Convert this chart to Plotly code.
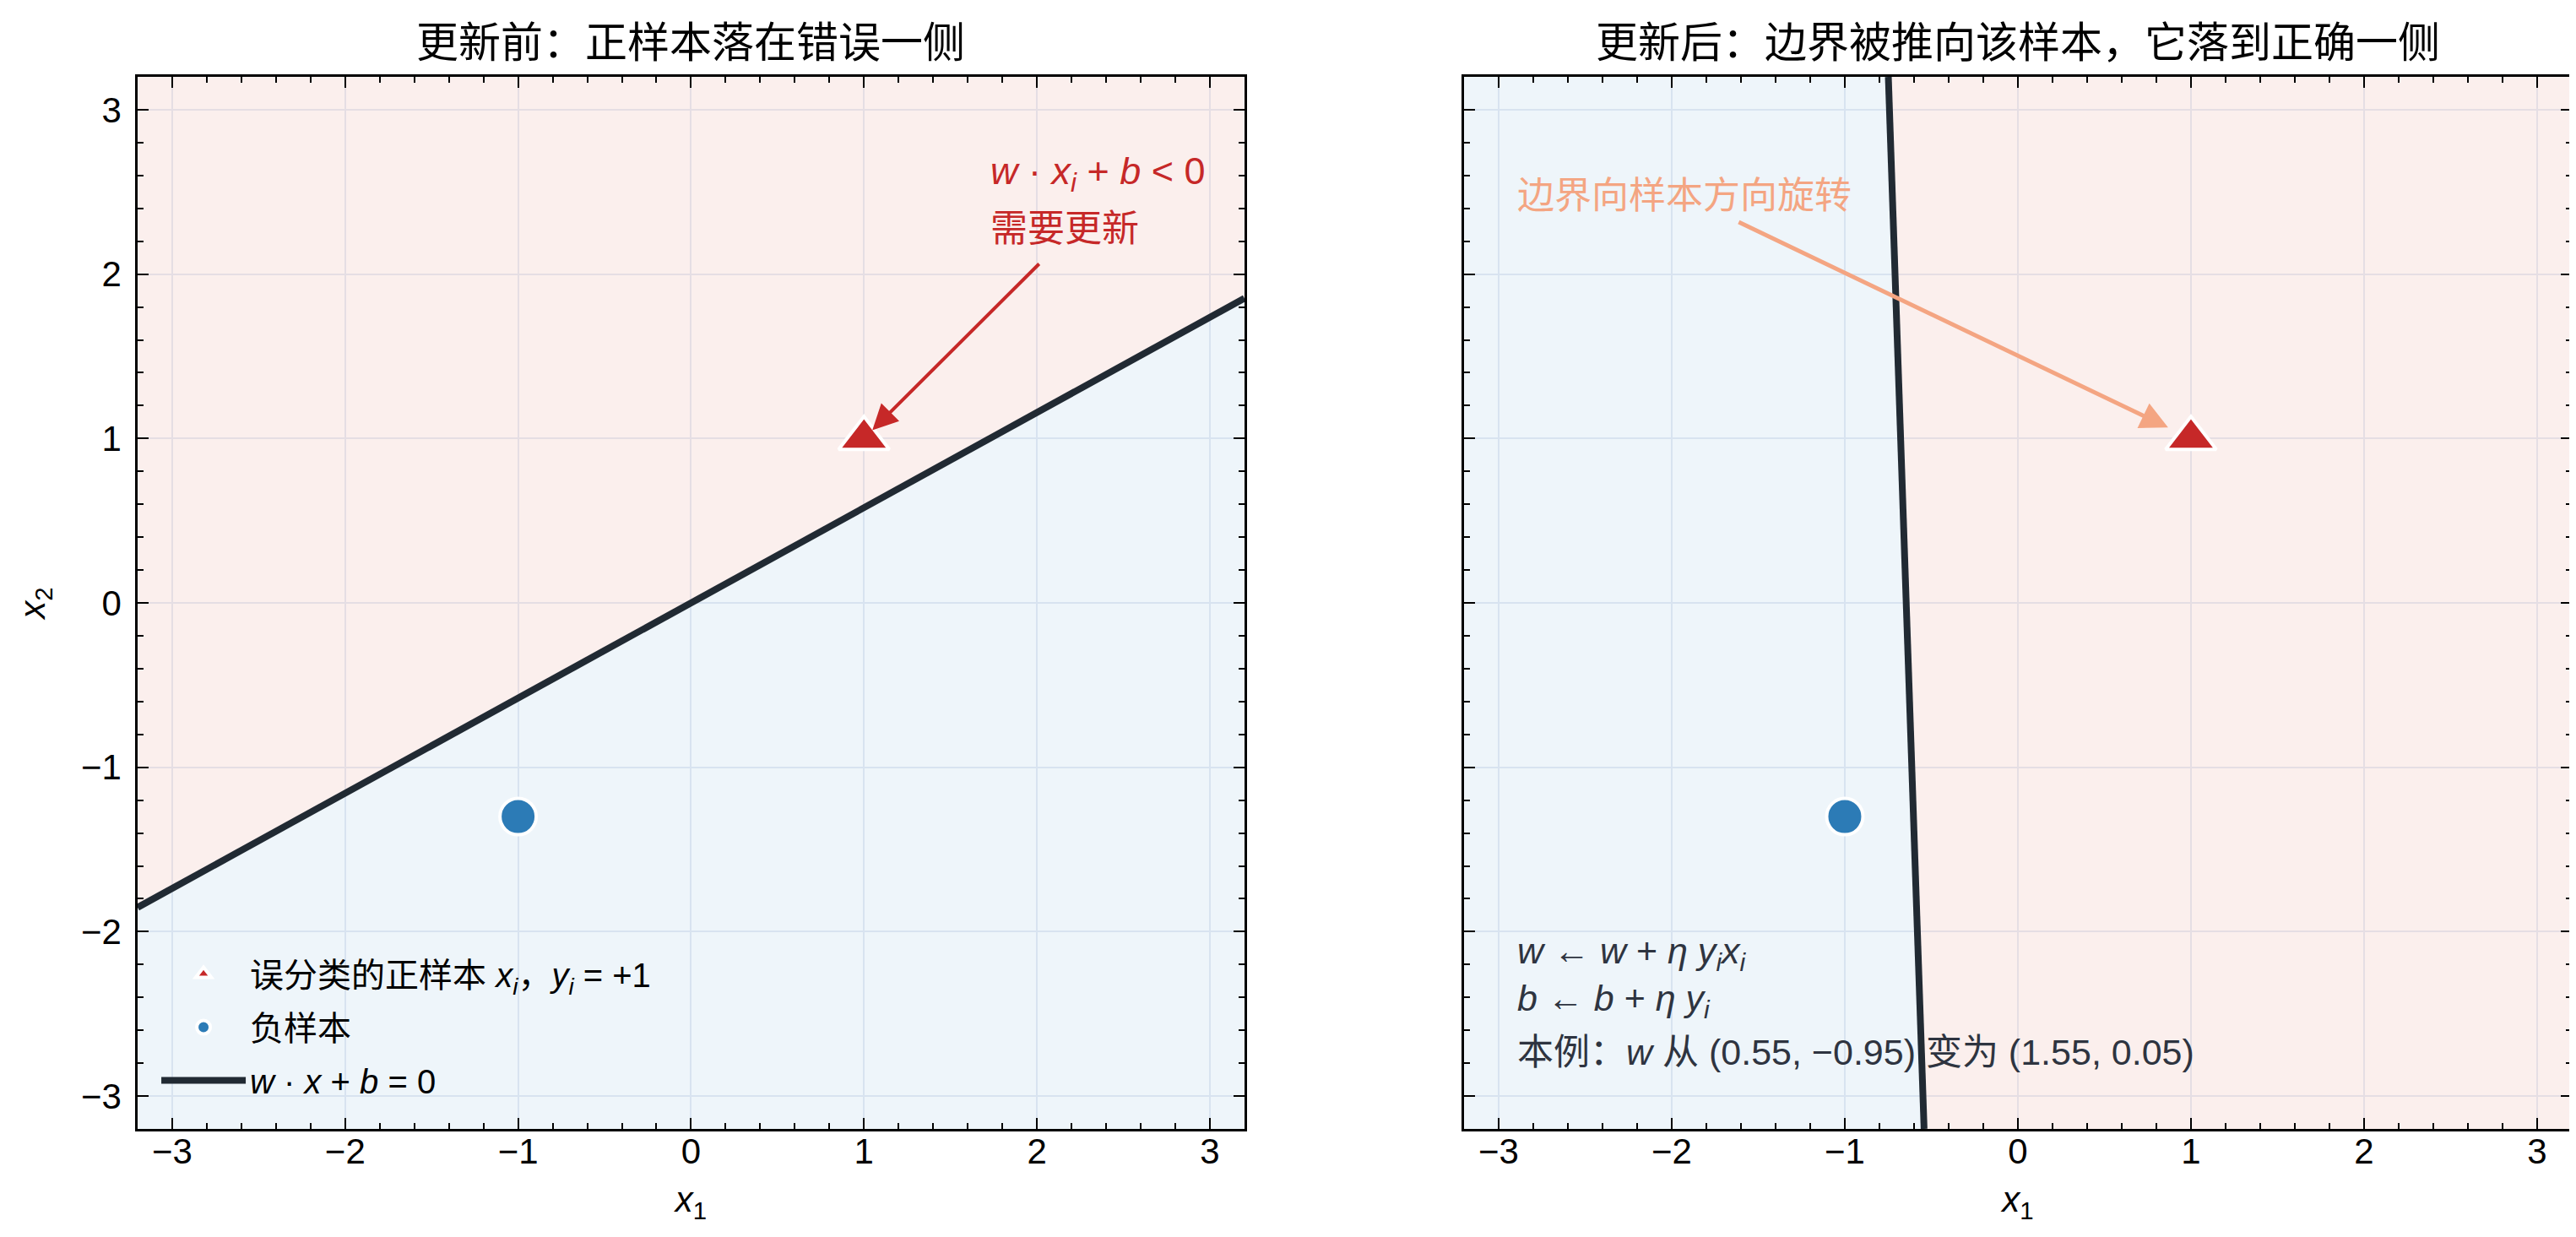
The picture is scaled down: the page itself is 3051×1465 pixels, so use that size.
import plotly.graph_objects as go
from plotly.subplots import make_subplots

# perceptron weights before / after one update (eta = 1, y_i = +1)
w_before = [0.55, -0.95]
b_before = 0.0
w_after = [1.55, 0.05]
b_after = 1.0

# samples
pos_x = [1.0]
pos_y = [1.0]
neg_x = [-1.0]
neg_y = [-1.3]

lim = 3.2
tick_vals = [-3, -2, -1, 0, 1, 2, 3]

titles = ['更新前：正样本落在错误一侧', '更新后：边界被推向该样本，它落到正确一侧']

FONT = 'Liberation Sans, Noto Sans CJK SC, sans-serif'
RED = '#c62828'
BLUE = '#2c7bb6'
DARK = '#212a33'
SALMON = '#f4a582'
PINK_FILL = 'rgba(214, 96, 77, 0.10)'
BLUE_FILL = 'rgba(67, 147, 195, 0.09)'
GRID = 'rgb(231, 236, 245)'


def fmt(v):
    return '{0:.2f}'.format(v).replace('-', '−')


fig = make_subplots(rows=1, cols=2, shared_yaxes=True)

# left panel: boundary w.x + b = 0 solved for x2
yl = -(w_before[0] * -lim + b_before) / w_before[1]
yr = -(w_before[0] * lim + b_before) / w_before[1]
fig.add_trace(go.Scatter(x=[-lim, lim, lim, -lim], y=[yl, yr, lim, lim], fill='toself', fillcolor=PINK_FILL,
                         mode='none', showlegend=False, hoverinfo='skip'), row=1, col=1)
fig.add_trace(go.Scatter(x=[-lim, lim, lim, -lim], y=[yl, yr, -lim, -lim], fill='toself', fillcolor=BLUE_FILL,
                         mode='none', showlegend=False, hoverinfo='skip'), row=1, col=1)
fig.add_trace(go.Scatter(x=[-lim, lim], y=[yl, yr], mode='lines', line=dict(color=DARK, width=8),
                         name='<i>w</i> · <i>x</i> + <i>b</i> = 0', legendrank=3, legendgroup='c'), row=1, col=1)
fig.add_trace(go.Scatter(x=pos_x, y=pos_y, mode='markers',
                         marker=dict(symbol='triangle-up', size=52, color=RED, line=dict(color='white', width=4)),
                         name='误分类的正样本 <i>x<sub>i</sub></i>，<i>y<sub>i</sub></i> = +1', legendrank=1,
                         legendgroup='a'), row=1, col=1)
fig.add_trace(go.Scatter(x=neg_x, y=neg_y, mode='markers',
                         marker=dict(symbol='circle', size=43, color=BLUE, line=dict(color='white', width=4)),
                         name='负样本', legendrank=2, legendgroup='b'), row=1, col=1)

# right panel: boundary solved for x1
xt = -(w_after[1] * lim + b_after) / w_after[0]
xb = -(w_after[1] * -lim + b_after) / w_after[0]
fig.add_trace(go.Scatter(x=[xt, xb, -lim, -lim], y=[lim, -lim, -lim, lim], fill='toself', fillcolor=BLUE_FILL,
                         mode='none', showlegend=False, hoverinfo='skip'), row=1, col=2)
fig.add_trace(go.Scatter(x=[xt, xb, lim, lim], y=[lim, -lim, -lim, lim], fill='toself', fillcolor=PINK_FILL,
                         mode='none', showlegend=False, hoverinfo='skip'), row=1, col=2)
fig.add_trace(go.Scatter(x=[xt, xb], y=[lim, -lim], mode='lines', line=dict(color=DARK, width=8),
                         showlegend=False), row=1, col=2)
fig.add_trace(go.Scatter(x=pos_x, y=pos_y, mode='markers',
                         marker=dict(symbol='triangle-up', size=52, color=RED, line=dict(color='white', width=4)),
                         showlegend=False), row=1, col=2)
fig.add_trace(go.Scatter(x=neg_x, y=neg_y, mode='markers',
                         marker=dict(symbol='circle', size=43, color=BLUE, line=dict(color='white', width=4)),
                         showlegend=False), row=1, col=2)

axis_style = dict(
    range=[-lim, lim], tickvals=tick_vals, ticks='inside', ticklen=13, tickwidth=2, tickcolor='black',
    showline=True, linecolor='black', linewidth=2.5, mirror='allticks',
    showgrid=True, gridcolor=GRID, gridwidth=2, zeroline=False,
    minor=dict(dtick=0.2, ticks='inside', ticklen=7, tickwidth=1.5, tickcolor='black', showgrid=False),
    tickfont=dict(size=42, color='black'), automargin=False,
)
fig.update_xaxes(**axis_style, ticklabelstandoff=-12,
                 title=dict(text='<i>x</i><sub>1</sub>', font=dict(size=42), standoff=20))
fig.update_yaxes(**axis_style, ticklabelstandoff=8)
fig.update_yaxes(title=dict(text='<i>x</i><sub>2</sub>', font=dict(size=42), standoff=30), row=1, col=1)
fig.update_yaxes(showticklabels=False, row=1, col=2)
fig.update_layout(xaxis=dict(domain=[0, 0.4547]), xaxis2=dict(domain=[0.5449, 1]))

# panel titles
for dom, title in zip([[0, 0.4547], [0.5449, 1]], titles):
    fig.add_annotation(x=(dom[0] + dom[1]) / 2, y=1, xref='paper', yref='paper', text=title, showarrow=False,
                       xanchor='center', yanchor='bottom', yshift=10, font=dict(size=50, color='black'))

# left annotation
fig.add_annotation(x=1.72, y=2.61, xref='x', yref='y', xanchor='left', showarrow=False,
                   text='<i>w</i> · <i>x<sub>i</sub></i> + <i>b</i> &lt; 0', font=dict(size=45, color=RED))
fig.add_annotation(x=1.72, y=2.28, xref='x', yref='y', xanchor='left', showarrow=False,
                   text='需要更新', font=dict(size=44, color=RED))
fig.add_annotation(x=pos_x[0], y=pos_y[0], xref='x', yref='y', ax=2.02, ay=2.07, axref='x', ayref='y', text='',
                   showarrow=True, arrowhead=2, arrowsize=1.5, arrowwidth=4, arrowcolor=RED, standoff=14)

# right annotation
fig.add_annotation(x=-2.9, y=2.48, xref='x2', yref='y2', xanchor='left', showarrow=False,
                   text='边界向样本方向旋转', font=dict(size=44, color=SALMON))
fig.add_annotation(x=pos_x[0], y=pos_y[0], xref='x2', yref='y2', ax=-1.62, ay=2.32, axref='x2', ayref='y2', text='',
                   showarrow=True, arrowhead=2, arrowsize=1.3, arrowwidth=5, arrowcolor=SALMON, standoff=30)

box_lines = [
    '<i>w</i> ← <i>w</i> + <i>η y<sub>i</sub>x<sub>i</sub></i>',
    '<i>b</i> ← <i>b</i> + <i>η y<sub>i</sub></i>',
    '本例：<i>w</i> 从 ({0}, {1}) 变为 ({2}, {3})'.format(fmt(w_before[0]), fmt(w_before[1]),
                                                     fmt(w_after[0]), fmt(w_after[1])),
]
for line, yy in zip(box_lines, [-2.13, -2.42, -2.73]):
    fig.add_annotation(x=-2.9, y=yy, xref='x2', yref='y2', xanchor='left', showarrow=False,
                       text=line, font=dict(size=43, color='#2e3440'))

fig.update_layout(
    width=3051, height=1465,
    margin=dict(l=155, r=13, t=83, b=136),
    plot_bgcolor='white', paper_bgcolor='white',
    font=dict(family=FONT, size=42, color='black'),
    legend=dict(x=0.008, y=0.02, xanchor='left', yanchor='bottom', bgcolor='rgba(0,0,0,0)',
                font=dict(size=40), itemwidth=100, traceorder='grouped', tracegroupgap=8),
)

fig.write_html('out.html')
